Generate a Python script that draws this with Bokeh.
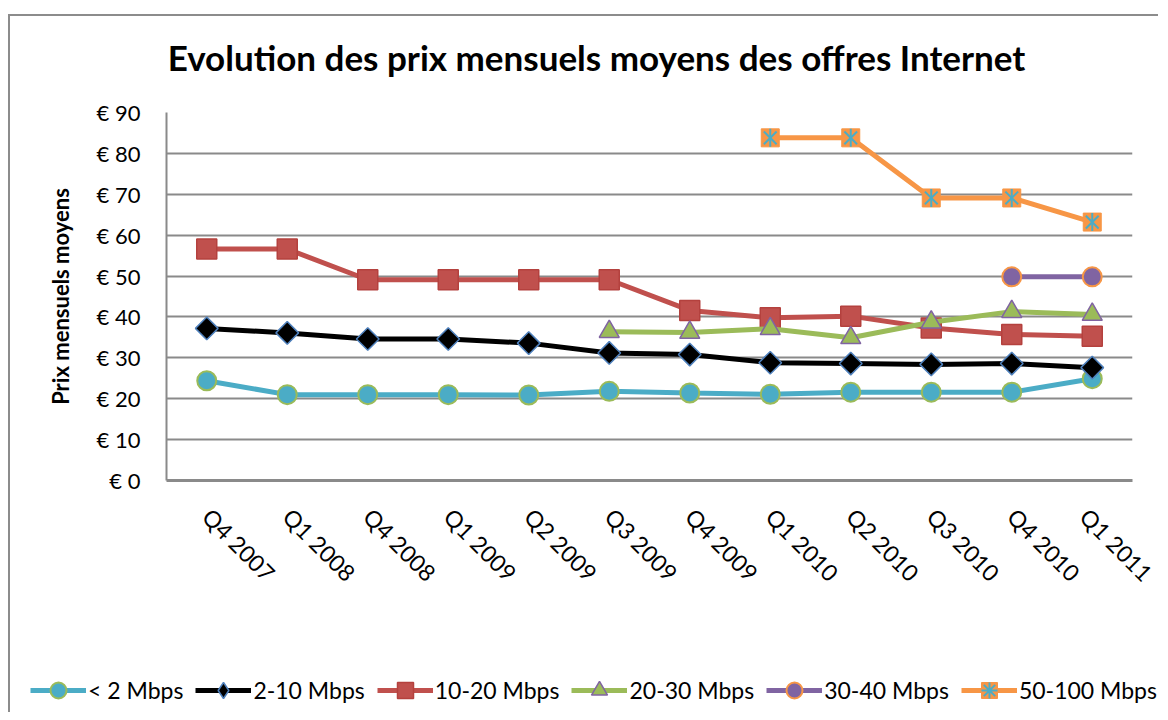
import math
from bokeh.plotting import figure
from bokeh.models import (FactorRange, Range1d, FixedTicker, Legend, LegendItem, Label)
from bokeh.embed import file_html
from bokeh.resources import INLINE

# ---------------- data ----------------
quarters = ["Q4 2007", "Q1 2008", "Q4 2008", "Q1 2009", "Q2 2009", "Q3 2009",
            "Q4 2009", "Q1 2010", "Q2 2010", "Q3 2010", "Q4 2010", "Q1 2011"]

lt2_x = quarters
lt2_y = [24.4, 21.0, 21.0, 21.0, 20.9, 21.8, 21.4, 21.1, 21.6, 21.6, 21.6, 24.9]

s2_10_x = quarters
s2_10_y = [37.2, 36.1, 34.6, 34.6, 33.6, 31.2, 30.8, 28.8, 28.6, 28.4, 28.6, 27.6]

s10_20_x = quarters
s10_20_y = [56.6, 56.6, 49.1, 49.1, 49.1, 49.1, 41.6, 39.8, 40.2, 37.3, 35.7, 35.3]

s20_30_x = ["Q3 2009", "Q4 2009", "Q1 2010", "Q2 2010", "Q3 2010", "Q4 2010", "Q1 2011"]
s20_30_y = [36.4, 36.2, 37.1, 34.9, 38.7, 41.3, 40.6]

s30_40_x = ["Q4 2010", "Q1 2011"]
s30_40_y = [49.8, 49.8]

s50_100_x = ["Q1 2010", "Q2 2010", "Q3 2010", "Q4 2010", "Q1 2011"]
s50_100_y = [83.8, 83.8, 69.1, 69.1, 63.2]

series_names = ["< 2 Mbps", "2-10 Mbps", "10-20 Mbps", "20-30 Mbps", "30-40 Mbps", "50-100 Mbps"]

y_ticks = [0, 10, 20, 30, 40, 50, 60, 70, 80, 90]
y_tick_labels = ["€ 0", "€ 10", "€ 20", "€ 30", "€ 40", "€ 50", "€ 60", "€ 70", "€ 80", "€ 90"]

title_text = "Evolution des prix mensuels moyens des offres Internet"
y_label = "Prix mensuels moyens"

FONT = "Lato"
GRID = "#8a8a8a"
BORDER = "2px solid #8c8c8c"

# series styles: (line colour, [(marker, size, fill, outline, outline width, angle), ...])
styles = [
    ("#4BACC6", [("circle", 19, "#4BACC6", "#9BBB59", 2, 0)]),
    ("black", [("square", 16, "black", "#4F81BD", 1.5, math.pi / 4)]),
    ("#C0504D", [("square", 20, "#C0504D", "#B4413E", 1.5, 0)]),
    ("#9BBB59", [("triangle", 20, "#9BBB59", "#8064A2", 1.5, 0)]),
    ("#8064A2", [("circle", 19, "#8064A2", "#F79646", 2, 0)]),
    ("#F79646", [("square", 18, "#F79646", "#F79646", 1, 0),
                 ("x", 18, None, "#4BACC6", 2, 0),
                 ("dash", 18, None, "#4BACC6", 2, math.pi / 2)]),
]
# legend swatches (the legend does not rotate markers)
legend_styles = [
    ("#4BACC6", [("circle", 19, "#4BACC6", "#9BBB59", 2, 0)]),
    ("black", [("diamond", 20, "black", "#4F81BD", 1.5, 0)]),
    ("#C0504D", [("square", 20, "#C0504D", "#B4413E", 1.5, 0)]),
    ("#9BBB59", [("triangle", 20, "#9BBB59", "#8064A2", 1.5, 0)]),
    ("#8064A2", [("circle", 19, "#8064A2", "#F79646", 2, 0)]),
    ("#F79646", [("square", 18, "#F79646", "#F79646", 1, 0),
                 ("asterisk", 18, None, "#4BACC6", 2, 0)]),
]
series_x = [lt2_x, s2_10_x, s10_20_x, s20_30_x, s30_40_x, s50_100_x]
series_y = [lt2_y, s2_10_y, s10_20_y, s20_30_y, s30_40_y, s50_100_y]

# ---------------- title strip ----------------
t = figure(width=1150, height=74, x_range=Range1d(0, 1), y_range=Range1d(0, 1),
           output_backend="svg", toolbar_location=None, x_axis_type=None,
           y_axis_type=None, min_border=0)
t.outline_line_color = None
t.xgrid.grid_line_color = None
t.ygrid.grid_line_color = None
t.styles = {"border-left": BORDER, "border-top": BORDER,
            "margin-top": "14px", "margin-left": "8px"}
t.add_layout(Label(x=586, y=34, x_units="screen", y_units="screen", text=title_text,
                   text_font=FONT, text_font_style="bold", text_font_size="35px",
                   text_align="center", text_baseline="middle", text_color="black"))

# ---------------- main chart ----------------
p = figure(width=1150, height=580, x_range=FactorRange(*quarters, range_padding=0),
           y_range=Range1d(0, 90), output_backend="svg", toolbar_location=None,
           title=None, min_border_left=156, min_border_right=28, min_border_top=24,
           min_border_bottom=188)
p.outline_line_color = None
p.background_fill_color = "white"
p.border_fill_color = "white"
p.styles = {"border-left": BORDER, "margin-left": "8px"}

p.xgrid.grid_line_color = None
p.ygrid.grid_line_color = GRID
p.ygrid.grid_line_width = 2

p.yaxis.ticker = FixedTicker(ticks=y_ticks)
p.yaxis.major_label_overrides = {t_: l for t_, l in zip(y_ticks, y_tick_labels)}
p.yaxis.axis_line_color = GRID
p.yaxis.axis_line_width = 2
p.yaxis.major_tick_out = 0
p.yaxis.major_tick_in = 0
p.yaxis.minor_tick_out = 0
p.yaxis.minor_tick_in = 0
p.yaxis.major_label_text_font = FONT
p.yaxis.major_label_text_font_size = "22px"
p.yaxis.major_label_text_color = "black"
p.yaxis.major_label_standoff = 26
p.yaxis.axis_label = y_label
p.yaxis.axis_label_text_font = FONT
p.yaxis.axis_label_text_font_style = "bold"
p.yaxis.axis_label_text_font_size = "22px"
p.yaxis.axis_label_text_color = "black"
p.yaxis.axis_label_standoff = 20

p.xaxis.axis_line_color = GRID
p.xaxis.axis_line_width = 3
p.xaxis.major_tick_out = 0
p.xaxis.major_tick_in = 0
p.xaxis.major_label_orientation = -math.pi / 4
p.xaxis.major_label_text_font = FONT
p.xaxis.major_label_text_font_size = "23px"
p.xaxis.major_label_text_color = "black"
p.xaxis.major_label_standoff = 32

for xs, ys, (lc, marks) in zip(series_x, series_y, styles):
    p.line(xs, ys, line_color=lc, line_width=5)
    for mk, sz, fc, oc, ow, ang in marks:
        p.scatter(xs, ys, marker=mk, size=sz, fill_color=fc, line_color=oc,
                  line_width=ow, angle=ang)

# ---------------- legend strip (same series, drawn out of view) ----------------
q = figure(width=1150, height=44, x_range=FactorRange(*quarters, range_padding=0),
           y_range=Range1d(1000, 1001), output_backend="svg", toolbar_location=None,
           x_axis_type=None, y_axis_type=None, min_border=0)
q.outline_line_color = None
q.xgrid.grid_line_color = None
q.ygrid.grid_line_color = None
q.styles = {"border-left": BORDER, "margin-left": "8px"}

items = []
for name, xs, ys, (lc, marks) in zip(series_names, series_x, series_y, legend_styles):
    rs = [q.line(xs, ys, line_color=lc, line_width=5)]
    for mk, sz, fc, oc, ow, ang in marks:
        rs.append(q.scatter(xs, ys, marker=mk, size=sz, fill_color=fc, line_color=oc,
                            line_width=ow))
    items.append(LegendItem(label=name, renderers=rs))

legend = Legend(items=items, orientation="horizontal", location=(20, 2),
                label_text_font=FONT, label_text_font_size="23px",
                label_text_color="black", glyph_width=56, glyph_height=40,
                label_standoff=2, spacing=12, padding=0, margin=0,
                border_line_color=None, background_fill_alpha=0)
q.add_layout(legend, "center")

open("out.html", "w").write(file_html([t, p, q], INLINE))
